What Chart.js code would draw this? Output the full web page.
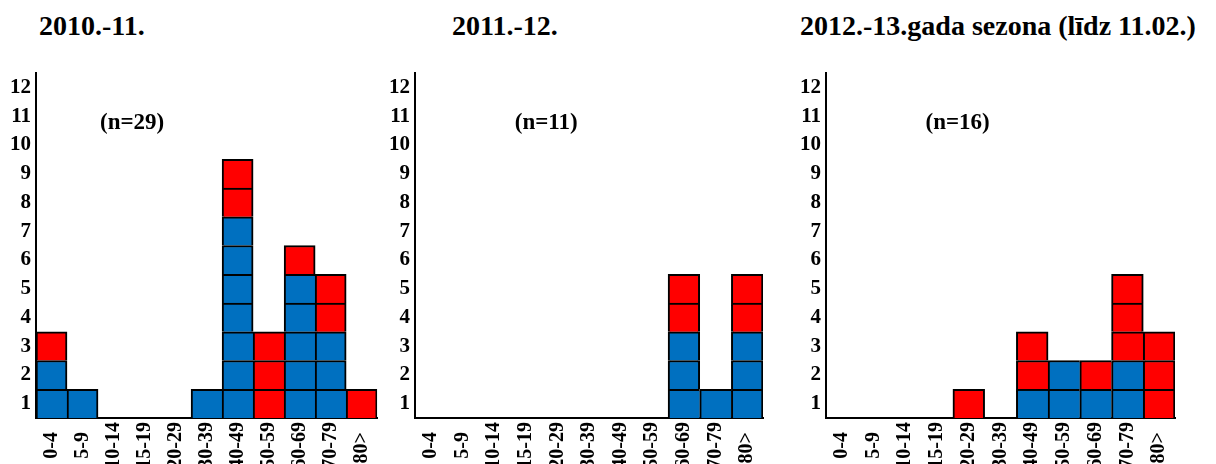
<!DOCTYPE html>
<html>
<head>
<meta charset="utf-8">
<script src="https://cdn.jsdelivr.net/npm/chart.js@4.4.1/dist/chart.umd.min.js"></script>
<style>
	body { margin: 0; width: 1216px; height: 464px; background: #fff; overflow: hidden; position: relative; }
	.panel { position: absolute; top: 0; height: 464px; }
	.title { position: absolute; top: 12px; font: bold 28px "Liberation Serif", "Times New Roman", serif; line-height: 28px; white-space: nowrap; color: #000; }
</style>
</head>
<body>
<div class="title" id="title1" style="left:39px"></div>
<div class="title" id="title2" style="left:452px"></div>
<div class="title" id="title3" style="left:800px"></div>
<div class="panel" style="left:0;width:390px"><canvas id="chart1"></canvas></div>
<div class="panel" style="left:390px;width:390px"><canvas id="chart2"></canvas></div>
<div class="panel" style="left:780px;width:436px"><canvas id="chart3"></canvas></div>
<script>
var season_titles = ["2010.-11.", "2011.-12.", "2012.-13.gada sezona (līdz 11.02.)"];
var age_groups = ["0-4", "5-9", "10-14", "15-19", "20-29", "30-39", "40-49", "50-59", "60-69", "70-79", "80>"];
var y_labels = ["1", "2", "3", "4", "5", "6", "7", "8", "9", "10", "11", "12"];

// cases per age group: blue cells at the bottom, red on top
var blue_2010 = [2, 1, 0, 0, 0, 1, 7, 0, 5, 3, 0];
var red_2010 = [1, 0, 0, 0, 0, 0, 2, 3, 1, 2, 1];
var blue_2011 = [0, 0, 0, 0, 0, 0, 0, 0, 3, 1, 3];
var red_2011 = [0, 0, 0, 0, 0, 0, 0, 0, 2, 0, 2];
var blue_2012 = [0, 0, 0, 0, 0, 0, 1, 2, 1, 2, 0];
var red_2012 = [0, 0, 0, 0, 1, 0, 2, 0, 1, 3, 3];

var BLUE = "#0070c0";
var RED = "#ff0000";
var FONT = "'Liberation Serif', 'Times New Roman', serif";

for (var t = 0; t < 3; t++) {
	document.getElementById("title" + (t + 1)).textContent = season_titles[t];
}

// one stacked dataset per row of cells, so every case is its own square.
// borders are split per side so neighbouring cells share one 2px line
function cell_datasets(blue, red) {
	var totals = blue.map(function (b, i) {
		return b + red[i];
	});
	var sets = [];
	for (var level = 0; level < y_labels.length; level++) {
		(function (level) {
			sets.push({
				data: totals.map(function (tot) {
					return tot > level ? 1 : null;
				}),
				backgroundColor: blue.map(function (b) {
					return level < b ? BLUE : RED;
				}),
				borderWidth: totals.map(function (tot, i) {
					var next = i + 1 < totals.length ? totals[i + 1] : 0;
					return { top: 2, left: 2, bottom: 0, right: next > level ? 0 : 2 };
				}),
				borderColor: "#000",
				borderSkipped: false,
				barPercentage: 1,
				categoryPercentage: 1,
				stack: "cases",
			});
		})(level);
	}
	return sets;
}

var n_label_plugin = {
	id: "n_label",
	afterDatasetsDraw: function (chart, args, opts) {
		var ctx = chart.ctx;
		var x = chart.scales.x.getPixelForValue(opts.x);
		var y = chart.scales.y.getPixelForValue(opts.y);
		ctx.save();
		ctx.font = "bold 23px " + FONT;
		ctx.fillStyle = "#000";
		ctx.textAlign = "center";
		ctx.textBaseline = "middle";
		ctx.fillText(opts.text, x, y);
		ctx.restore();
	},
};

function make_chart(id, blue, red, axis_width, right_pad, n_x) {
	var n = 0;
	blue.forEach(function (b, i) {
		n += b + red[i];
	});
	return new Chart(document.getElementById(id), {
		type: "bar",
		data: {
			labels: age_groups,
			datasets: cell_datasets(blue, red),
		},
		plugins: [n_label_plugin],
		options: {
			responsive: true,
			maintainAspectRatio: false,
			animation: false,
			layout: { padding: { top: 73, left: 0, right: right_pad, bottom: 0 } },
			plugins: {
				legend: { display: false },
				tooltip: { enabled: false },
				n_label: { text: "(n=" + n + ")", x: n_x, y: 10.25 },
			},
			scales: {
				x: {
					stacked: true,
					grid: { display: false, drawTicks: false },
					border: { display: true, color: "#000", width: 2 },
					afterFit: function (scale) {
						scale.height = 46;
					},
					ticks: {
						autoSkip: false,
						maxRotation: 90,
						minRotation: 90,
						padding: 4,
						color: "#000",
						font: { family: FONT, size: 20, weight: "bold" },
						callback: function (value, index) {
							var label = age_groups[index];
							return label + " ".repeat(5 - label.length);
						},
					},
				},
				y: {
					stacked: true,
					min: 0,
					max: 12,
					grid: { display: false, drawTicks: false },
					border: { display: true, color: "#000", width: 2 },
					afterFit: function (scale) {
						scale.width = axis_width;
					},
					afterBuildTicks: function (scale) {
						scale.ticks = y_labels.map(function (l, i) {
							return { value: i + 0.5 };
						});
					},
					ticks: {
						padding: 5,
						color: "#000",
						font: { family: FONT, size: 21, weight: "bold" },
						callback: function (value, index) {
							return y_labels[index];
						},
					},
				},
			},
		},
	});
}

make_chart("chart1", blue_2010, red_2010, 36, 7, 2.6);
make_chart("chart2", blue_2011, red_2011, 25, 17, 3.65);
make_chart("chart3", blue_2012, red_2012, 46, 41, 3.65);
</script>
</body>
</html>
